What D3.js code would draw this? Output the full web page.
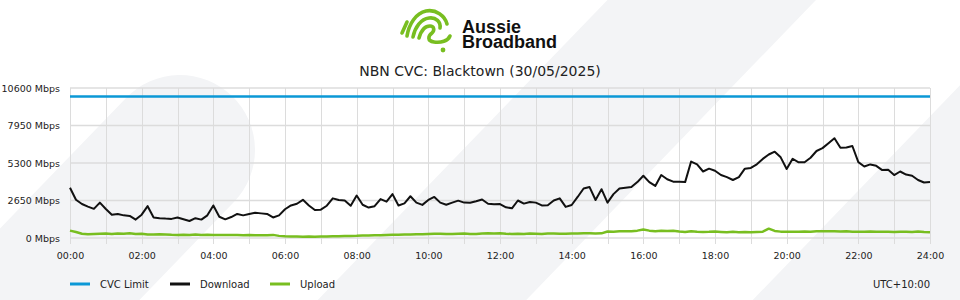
<!DOCTYPE html>
<html lang="en">
<head>
<meta charset="utf-8">
<title>NBN CVC: Blacktown</title>
<script src="https://d3js.org/d3.v7.min.js"></script>
<style>
body { margin: 0; background: #fff; }
svg text { font-family: "DejaVu Sans", sans-serif; }
</style>
</head>
<body>
<div id="chart"></div>
<script>
// chart data (10 minute samples, 00:00 - 24:00)
var stepMinutes = 10;
var title = "NBN CVC: Blacktown (30/05/2025)";
var yTicks = [0, 2650, 5300, 7950, 10600];
var xTickLabels = ["00:00", "02:00", "04:00", "06:00", "08:00", "10:00", "12:00",
                   "14:00", "16:00", "18:00", "20:00", "22:00", "24:00"];
var seriesNames = ["CVC Limit", "Download", "Upload"];
var cvcLimit = 10000;

var download = [
  3555, 2700, 2400, 2220, 2060, 2500, 2050, 1650, 1700, 1600,
  1560, 1300, 1650, 2250, 1450, 1400, 1370, 1350, 1450, 1320,
  1200, 1400, 1300, 1600, 2300, 1500, 1320, 1480, 1700, 1600,
  1700, 1780, 1740, 1700, 1450, 1600, 2030, 2300, 2420, 2700,
  2300, 1980, 2000, 2280, 2800, 2680, 2650, 2280, 3000, 2350,
  2150, 2250, 2750, 2570, 3100, 2300, 2450, 2950, 2500, 2340,
  2690, 2900, 2500, 2350, 2500, 2640, 2500, 2495, 2600, 2720,
  2420, 2380, 2400, 2170, 2100, 2650, 2430, 2550, 2500, 2300,
  2320, 2650, 2800, 2200, 2330, 2900, 3500, 3600, 2685, 3450,
  2500, 3100, 3500, 3550, 3600, 3950, 4400, 3950, 3680, 4450,
  4150, 3980, 3980, 3950, 5400, 5200, 4700, 4900, 4750, 4450,
  4300, 4100, 4300, 4900, 4950, 5210, 5590, 5900, 6100, 5700,
  4880, 5600, 5350, 5350, 5670, 6150, 6350, 6700, 7050, 6380,
  6400, 6500, 5360, 5050, 5200, 5100, 4800, 4820, 4450, 4700,
  4480, 4400, 4100, 3920, 3960
];

var upload = [
  520, 420, 300, 260, 280, 300, 310, 280, 320, 300,
  330, 290, 300, 250, 240, 260, 250, 230, 220, 230,
  220, 240, 220, 230, 210, 210, 220, 210, 210, 200,
  210, 200, 190, 200, 220, 150, 120, 100, 100, 90,
  100, 90, 100, 100, 120, 130, 140, 150, 160, 180,
  170, 200, 190, 210, 230, 230, 250, 240, 260, 270,
  290, 300, 300, 280, 290, 300, 310, 290, 280, 310,
  330, 320, 330, 300, 280, 300, 290, 310, 300, 290,
  310, 320, 300, 300, 310, 320, 330, 340, 320, 330,
  460, 450, 470, 470, 480, 520, 600, 520, 480, 510,
  500, 520, 460, 430, 480, 450, 430, 440, 460, 430,
  400, 440, 410, 430, 400, 430, 450, 660, 500, 450,
  440, 440, 450, 460, 450, 470, 480, 470, 470, 460,
  470, 450, 440, 450, 460, 440, 450, 440, 430, 450,
  440, 430, 460, 420, 400
];

var w = 960;
var h = 300;
var colors = {"CVC Limit": "#0b98d6", "Download": "#111111", "Upload": "#78be20"};

var svg = d3.select("#chart").append("svg")
  .attr("width", w)
  .attr("height", h);

// background stripes
var bg = svg.append("g").attr("fill", "#f3f4f6");
bg.append("rect")
  .attr("transform", "translate(180,150) rotate(-46)")
  .attr("x", -600).attr("y", -75)
  .attr("width", 675).attr("height", 150)
  .attr("rx", 75);
bg.append("rect")
  .attr("transform", "translate(422,300) rotate(-46)")
  .attr("x", -300).attr("y", -75)
  .attr("width", 900).attr("height", 150);
bg.append("rect")
  .attr("transform", "translate(857,300) rotate(-46)")
  .attr("x", -300).attr("y", -75)
  .attr("width", 900).attr("height", 150);

// logo
var logo = svg.append("g")
  .attr("fill", "none")
  .attr("stroke", "#78be20")
  .attr("stroke-width", 3.6)
  .attr("stroke-linecap", "round");
logo.append("path").attr("d", "M402,33 L407,22");
logo.append("path").attr("d", "M407,36 C409,24 416,13 426,11 C436,9 445,16 447,24");
logo.append("path").attr("d", "M413,37 C415,27 421,19 429,18 C436,17 441,22 440,28");
logo.append("path").attr("d", "M419,38 C421,31 425,26 430,26 C434,26 435,30 432,33 C428,36 427,41 434,42 C441,43 448,41 450,36");
svg.append("circle").attr("cx", 443).attr("cy", 50).attr("r", 2.4).attr("fill", "#78be20");

var logoText = svg.append("text")
  .style("font-family", "'Liberation Sans', Arial, sans-serif")
  .style("font-weight", "bold")
  .style("font-size", "18px")
  .attr("fill", "#111");
logoText.append("tspan").attr("x", 462).attr("y", 33).text("Aussie");
logoText.append("tspan").attr("x", 462).attr("y", 48).text("Broadband");

// title
svg.append("text")
  .attr("x", w / 2).attr("y", 76)
  .attr("text-anchor", "middle")
  .style("font-size", "14px")
  .attr("fill", "#222")
  .text(title);

// scales
var xScale = d3.scaleLinear().domain([0, 1440]).range([70, 930]);
var yScale = d3.scaleLinear().domain([0, 10600]).range([238, 88]);

// grid
var grid = svg.append("g").attr("stroke", "#dcdcdc");
grid.selectAll("line.h")
  .data(yTicks)
  .enter().append("line")
  .attr("stroke-width", 1.5)
  .attr("x1", xScale(0)).attr("x2", xScale(1440))
  .attr("y1", d => yScale(d))
  .attr("y2", d => yScale(d));
grid.selectAll("line.v")
  .data(d3.range(0, 1441, 60))
  .enter().append("line")
  .attr("stroke-width", 1)
  .attr("x1", d => Math.round(xScale(d)) + 0.5)
  .attr("x2", d => Math.round(xScale(d)) + 0.5)
  .attr("y1", yScale(10600))
  .attr("y2", yScale(0) + 6);

// y axis labels
var yAxis = d3.axisLeft(yScale)
  .tickValues(yTicks)
  .tickSize(0)
  .tickPadding(10)
  .tickFormat(d => d + " Mbps");
var yg = svg.append("g")
  .attr("transform", "translate(70,0)")
  .call(yAxis);
yg.select(".domain").remove();
yg.selectAll("text").style("font-size", "9.5px").attr("fill", "#222").style("font-family", "'DejaVu Sans', sans-serif");

// x axis labels
var xAxis = d3.axisBottom(xScale)
  .tickValues(d3.range(0, 1441, 120))
  .tickSize(0)
  .tickPadding(14)
  .tickFormat((d, i) => xTickLabels[i]);
var xg = svg.append("g")
  .attr("transform", "translate(0,238)")
  .call(xAxis);
xg.select(".domain").remove();
xg.selectAll("text").style("font-size", "9.5px").attr("fill", "#222").style("font-family", "'DejaVu Sans', sans-serif");

// lines
var line = d3.line()
  .x((d, i) => xScale(i * stepMinutes))
  .y(d => yScale(d));

svg.append("path")
  .datum(upload)
  .attr("fill", "none")
  .attr("stroke", colors["Upload"])
  .attr("stroke-width", 2.5)
  .attr("stroke-linejoin", "round")
  .attr("d", line);

svg.append("path")
  .datum(download)
  .attr("fill", "none")
  .attr("stroke", colors["Download"])
  .attr("stroke-width", 2)
  .attr("stroke-linejoin", "round")
  .attr("d", line);

svg.append("line")
  .attr("x1", xScale(0)).attr("x2", xScale(1440))
  .attr("y1", yScale(cvcLimit)).attr("y2", yScale(cvcLimit))
  .attr("stroke", colors["CVC Limit"])
  .attr("stroke-width", 2.5);

// legend
var legend = svg.append("g")
  .selectAll("g")
  .data(seriesNames)
  .enter().append("g")
  .attr("transform", (d, i) => "translate(" + (70 + i * 100) + ",284)");
legend.append("line")
  .attr("x1", 0).attr("x2", 20)
  .attr("stroke", d => colors[d])
  .attr("stroke-width", 3);
legend.append("text")
  .attr("x", 30).attr("dy", "0.35em")
  .style("font-size", "10px")
  .attr("fill", "#222")
  .text(d => d);

svg.append("text")
  .attr("x", 930).attr("y", 284).attr("dy", "0.35em")
  .attr("text-anchor", "end")
  .style("font-size", "10px")
  .attr("fill", "#222")
  .text("UTC+10:00");
</script>
</body>
</html>
